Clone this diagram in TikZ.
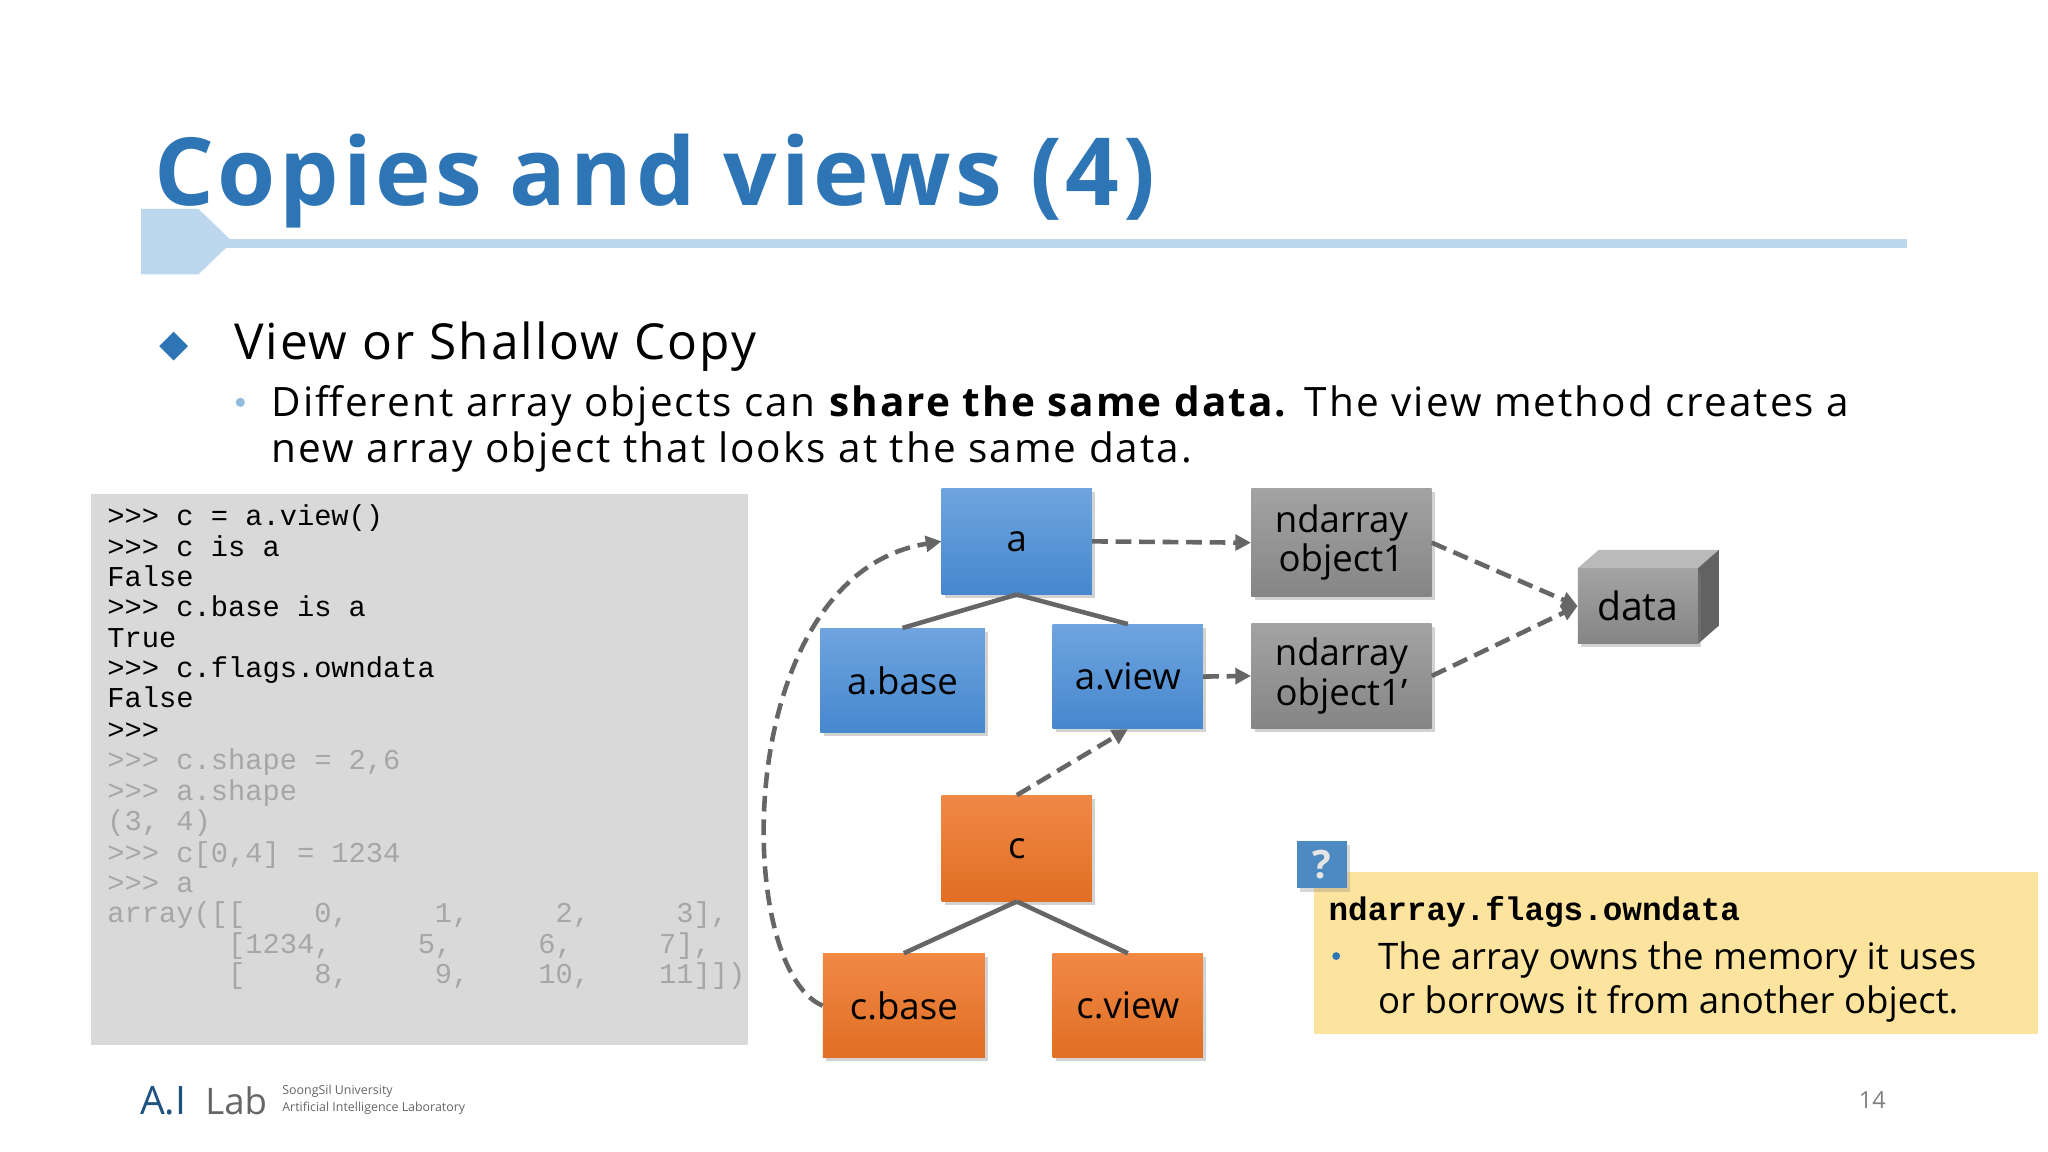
\documentclass[tikz,border=0pt]{standalone}
\usepackage{fontspec}
\setmainfont{Open Sans}
\setmonofont{Liberation Mono}
\newfontfamily\spaced[LetterSpace=4]{Open Sans}
\newfontfamily\spacedb[LetterSpace=5]{Open Sans}
\usetikzlibrary{shadows,arrows.meta}
\definecolor{tblue}{HTML}{2E75B6}
\definecolor{lblue}{HTML}{BDD7EE}
\definecolor{codebg}{HTML}{D9D9D9}
\definecolor{bluebox}{HTML}{4A8ED8}
\definecolor{orbox}{HTML}{ED7425}
\definecolor{grbox}{HTML}{8C8C8C}
\definecolor{notebg}{HTML}{FDE49E}
\definecolor{dgray}{HTML}{666666}
\tikzset{
 boxb/.style={draw=none,top color=bluebox!80!white,bottom color=bluebox!95!black,drop shadow={opacity=0.35},text=black,font=\fontsize{28}{30}\selectfont},
 boxo/.style={boxb,top color=orbox!85!white,bottom color=orbox!95!black},
 boxg/.style={boxb,top color=grbox!80!white,bottom color=grbox!95!black,align=center,font=\fontsize{28}{30}\selectfont},
 dline/.style={dgray,line width=3.5pt,dashed,dash pattern=on 12pt off 6pt,-{Triangle[length=12pt,width=12pt]}},
 sline/.style={dgray,line width=3.5pt},
 code/.style={anchor=base west,font=\ttfamily\fontsize{22}{25}\selectfont,inner sep=0pt},
 codeg/.style={code,text=black!35},
}
\begin{document}
\begin{tikzpicture}[x=1pt,y=-1pt]
\useasboundingbox[fill=white] (0,0) rectangle (1568,882);
% title
\node[anchor=base west,inner sep=0pt,text=tblue,font=\bfseries\spaced\fontsize{72}{80}\selectfont] (title) at (118,157) {Copies and views (4)};
\fill[lblue] (108,160) -- (152,160) -- (178,185) -- (152,210) -- (108,210) -- cycle;
\fill[lblue] (170,183) rectangle (1460,190);
% bullets
\fill[tblue] (133,254) -- (144,265) -- (133,276) -- (122,265) -- cycle;
\node[anchor=base west,inner sep=0pt,font=\spaced\fontsize{38}{40}\selectfont] (h1) at (179,275) {View or Shallow Copy};
\fill[lblue!70!tblue] (184,308) circle (3.5pt);
\node[anchor=base west,inner sep=0pt,font=\spacedb\fontsize{31}{35}\selectfont] (l1) at (208,319) {Different array objects can \textbf{share the same data.} The view method creates a};
\node[anchor=base west,inner sep=0pt,font=\spacedb\fontsize{31}{35}\selectfont] (l2) at (208,354) {new array object that looks at the same data.};
% code box
\fill[codebg] (70,378) rectangle (573,800);
\node[code] (c1) at (82,402) {>>>~c~=~a.view()};
\node[code] (c2) at (82,426) {>>>~c~is~a};
\node[code] (c3) at (82,449) {False};
\node[code] (c4) at (82,472) {>>>~c.base~is~a};
\node[code] (c5) at (82,496) {True};
\node[code] (c6) at (82,519) {>>>~c.flags.owndata};
\node[code] (c7) at (82,542) {False};
\node[code] (c8) at (82,566) {>>>};
\node[codeg] (c9) at (82,589) {>>>~c.shape~=~2,6};
\node[codeg] (c10) at (82,613) {>>>~a.shape};
\node[codeg] (c11) at (82,636) {(3,~4)};
\node[codeg] (c12) at (82,660) {>>>~c[0,4]~=~1234};
\node[codeg] (c13) at (82,683) {>>>~a};
\node[codeg] (c14) at (82,706) {array([[~~~~0,~~~~~1,~~~~~2,~~~~~3],};
\node[codeg] (c15) at (82,730) {~~~~~~~[1234,~~~~~5,~~~~~6,~~~~~7],};
\node[codeg] (c16) at (82,753) {~~~~~~~[~~~~8,~~~~~9,~~~~10,~~~~11]])};
% boxes
\node[boxb,minimum width=115pt,minimum height=81pt] (a) at (778.5,414.5) {a};
\node[boxb,minimum width=126pt,minimum height=80pt] (abase) at (691,521) {a.base};
\node[boxb,minimum width=115pt,minimum height=80pt] (aview) at (863.5,518) {a.view};
\node[boxo,minimum width=115pt,minimum height=81pt] (c) at (778.5,649.5) {c};
\node[boxo,minimum width=124pt,minimum height=80pt] (cbase) at (692,770) {c.base};
\node[boxo,minimum width=115pt,minimum height=80pt] (cview) at (863.5,770) {c.view};
\node[boxg,minimum width=138pt,minimum height=83pt] (o1) at (1027,415.5) {ndarray\\object1};
\node[boxg,minimum width=138pt,minimum height=81pt] (o2) at (1027,517.5) {ndarray\\object1’};
% data 3d
\fill[grbox!60!white] (1208,435) -- (1224,421) -- (1316,421) -- (1300,435) -- cycle;
\fill[grbox!70!black] (1300,435) -- (1316,421) -- (1316,479) -- (1300,493) -- cycle;
\node[boxg,minimum width=92pt,minimum height=58pt,drop shadow={opacity=0},font=\fontsize{30}{30}\selectfont] (data) at (1254,464) {data};
% tree lines
\draw[sline] (a.south) -- (abase.north);
\draw[sline] (a.south) -- (aview.north);
\draw[sline] (c.south) -- (cbase.north);
\draw[sline] (c.south) -- (cview.north);
% dashed arrows
\draw[dline] (a.east) -- (o1.west);
\draw[dline] (aview.east) -- (o2.west);
\draw[dline] (o1.east) -- (data.west);
\draw[dline] (o2.east) -- (data.west);
\draw[dline] (c.north) -- (aview.south);
\draw[dline] (cbase.west) .. controls (560,740) and (560,440) .. (a.west);
% note
\fill[notebg] (1006,668) rectangle (1560,792);
\node[fill=tblue!85!white,minimum width=38pt,minimum height=36pt,text=white!90!black,font=\bfseries\fontsize{30}{30}\selectfont,drop shadow={opacity=0.3}] (q) at (1012,662) {?};
\node[anchor=base west,inner sep=0pt,font=\ttfamily\bfseries\fontsize{25}{27}\selectfont] (n1) at (1017,705) {ndarray.flags.owndata};
\fill[tblue] (1023,732) circle (3pt);
\node[anchor=base west,inner sep=0pt,font=\fontsize{28}{30}\selectfont] (n2) at (1055,742) {The array owns the memory it uses};
\node[anchor=base west,inner sep=0pt,font=\fontsize{28}{30}\selectfont] (n3) at (1055,776) {or borrows it from another object.};
% footer
\node[anchor=base west,inner sep=0pt,text=tblue!70!black,font=\fontsize{30}{30}\selectfont] (logo) at (107,853) {A.I};
\node[anchor=base west,inner sep=0pt,text=dgray,font=\fontsize{28}{30}\selectfont] (lab) at (157,853) {Lab};
\node[anchor=base west,inner sep=0pt,text=dgray,font=\fontsize{9.5}{11}\selectfont] (u1) at (216,838) {SoongSil University};
\node[anchor=base west,inner sep=0pt,text=dgray,font=\fontsize{9.5}{11}\selectfont] (u2) at (216,851) {Artificial Intelligence Laboratory};
\node[anchor=base west,inner sep=0pt,text=black!50,font=\fontsize{18}{20}\selectfont] (pg) at (1423,849) {14};
\end{tikzpicture}
\end{document}
